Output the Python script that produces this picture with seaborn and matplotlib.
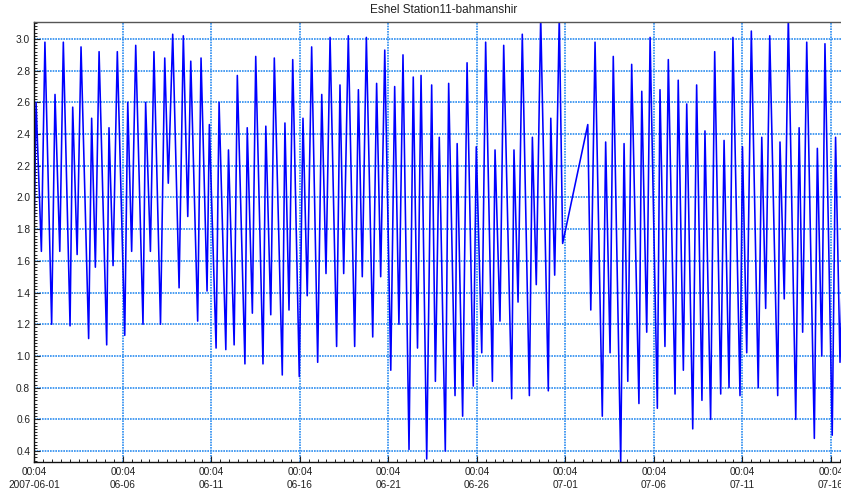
import numpy as np
import pandas as pd
import matplotlib
matplotlib.use("Agg")
import matplotlib.pyplot as plt
import matplotlib.dates as mdates
from matplotlib.ticker import FixedLocator, MultipleLocator, FuncFormatter
import seaborn as sns

# ---------------- data ----------------
title = "Eshel Station11-bahmanshir"
start_time = "2007-06-01 00:04"

# time of each turning point, in days after the start time
day_offset = [
    0.00, 0.10, 0.40, 0.60, 0.98, 1.17, 1.44, 1.64, 2.02, 2.17, 2.42, 2.64,
    3.07, 3.24, 3.45, 3.66, 4.09, 4.22, 4.45, 4.69, 5.11, 5.28, 5.50, 5.73,
    6.14, 6.29, 6.56, 6.76, 7.13, 7.37, 7.57, 7.82, 8.18, 8.42, 8.67, 8.84,
    9.23, 9.42, 9.76, 9.89, 10.27, 10.44, 10.82, 10.97, 11.29, 11.47, 11.90, 12.03,
    12.32, 12.51, 12.92, 13.08, 13.36, 13.56, 14.01, 14.16, 14.39, 14.60, 14.97, 15.18,
    15.42, 15.67, 16.01, 16.24, 16.48, 16.71, 17.08, 17.27, 17.48, 17.74, 18.10, 18.31,
    18.53, 18.76, 19.12, 19.34, 19.57, 19.80, 20.14, 20.36, 20.60, 20.83, 21.17, 21.41,
    21.65, 21.85, 22.17, 22.45, 22.66, 22.88, 23.22, 23.41, 23.77, 23.89, 24.20, 24.45,
    24.80, 24.97, 25.28, 25.50, 25.88, 26.03, 26.31, 26.52, 26.97, 27.10, 27.33, 27.57,
    27.97, 28.14, 28.36, 28.61, 29.04, 29.18, 29.40, 29.66, 29.85,
    31.27, 31.44, 31.68, 32.09, 32.28, 32.53, 32.71, 33.13, 33.32, 33.53, 33.75,
    34.16, 34.32, 34.60, 34.79, 35.20, 35.35, 35.63, 35.82, 36.20, 36.38, 36.67, 36.86,
    37.20, 37.42, 37.72, 37.89, 38.21, 38.44, 38.78, 38.97, 39.25, 39.47, 39.87, 40.01,
    40.25, 40.51, 40.90, 41.10, 41.32, 41.55, 42.00, 42.13, 42.37, 42.60, 43.02, 43.21,
    43.41, 43.64, 44.07, 44.24, 44.49, 44.67, 45.08, 45.27, 45.52, 46.00,
]

# water level (m) at each turning point
level = [
    1.85, 2.60, 1.66, 2.98, 1.20, 2.65, 1.66, 2.98, 1.19, 2.57, 1.64, 2.95,
    1.11, 2.50, 1.56, 2.92, 1.07, 2.44, 1.57, 2.92, 1.13, 2.60, 1.66, 2.96,
    1.20, 2.60, 1.66, 2.92, 1.20, 2.88, 2.09, 3.03, 1.43, 3.02, 1.88, 2.86,
    1.22, 2.88, 1.41, 2.46, 1.05, 2.60, 1.04, 2.30, 1.07, 2.77, 0.95, 2.44,
    1.27, 2.89, 0.95, 2.45, 1.26, 2.88, 0.88, 2.47, 1.29, 2.87, 0.87, 2.50,
    1.38, 2.95, 0.96, 2.65, 1.52, 3.01, 1.06, 2.71, 1.52, 3.02, 1.06, 2.68,
    1.50, 3.01, 1.12, 2.72, 1.50, 2.93, 0.91, 2.70, 1.20, 2.90, 0.41, 2.76,
    1.05, 2.77, 0.35, 2.71, 0.84, 2.38, 0.40, 2.72, 0.75, 2.34, 0.62, 2.85,
    0.81, 2.32, 1.02, 2.98, 0.84, 2.30, 1.22, 2.96, 0.73, 2.30, 1.34, 3.03,
    0.75, 2.38, 1.45, 3.14, 0.78, 2.50, 1.51, 3.14, 1.71,
    2.46, 1.29, 2.98, 0.62, 2.35, 1.02, 2.89, 0.33, 2.34, 0.84, 2.84,
    0.70, 2.67, 1.15, 3.01, 0.67, 2.68, 1.06, 2.87, 0.76, 2.74, 0.91, 2.59,
    0.54, 2.71, 0.72, 2.42, 0.60, 2.92, 0.76, 2.36, 0.80, 3.01, 0.75, 2.32,
    1.02, 3.05, 0.80, 2.38, 1.30, 3.02, 0.75, 2.35, 1.36, 3.14, 0.60, 2.44,
    1.15, 2.98, 0.48, 2.31, 1.00, 2.97, 0.50, 2.38, 0.96, 2.90,
]

y_ticks = [0.4, 0.6, 0.8, 1.0, 1.2, 1.4, 1.6, 1.8, 2.0, 2.2, 2.4, 2.6, 2.8, 3.0]
x_tick_days = [0, 5, 10, 15, 20, 25, 30, 35, 40, 45]

# ---------------- figure ----------------
sns.set_theme(style="white")
plt.rcParams["font.family"] = ["Liberation Sans", "DejaVu Sans"]

t0 = pd.Timestamp(start_time)
df = pd.DataFrame({
    "time": t0 + pd.to_timedelta(np.array(day_offset), unit="D"),
    "level": level,
})

fig = plt.figure(figsize=(8.41, 4.94), dpi=100)
ax = fig.add_axes([34.3 / 841, 1 - 461.7 / 494, (852 - 34.3) / 841, (461.7 - 21.7) / 494])

sns.lineplot(data=df, x="time", y="level", ax=ax, color="#0000FF",
             linewidth=1.15, estimator=None, sort=False)

ax.set_xlim(t0, t0 + pd.Timedelta(days=(852 - 34.3) / 17.70))
ax.set_ylim(0.333, 3.109)

# x ticks
tick_times = [t0 + pd.Timedelta(days=d) for d in x_tick_days]
ax.xaxis.set_major_locator(FixedLocator(mdates.date2num(tick_times)))
minor_times = [t0 + pd.Timedelta(hours=12 * k) for k in range(0, 95)]
ax.xaxis.set_minor_locator(FixedLocator(mdates.date2num(minor_times)))

def fmt_x(v, pos):
    d = mdates.num2date(v)
    if pos == 0:
        return d.strftime("%H:%M\n%Y-%m-%d")
    return d.strftime("%H:%M\n%m-%d")

ax.xaxis.set_major_formatter(FuncFormatter(fmt_x))

ax.yaxis.set_major_locator(FixedLocator(y_ticks))
ax.yaxis.set_major_formatter(FuncFormatter(lambda v, p: f"{v:.1f}"))
ax.yaxis.set_minor_locator(MultipleLocator(0.02))

ax.tick_params(axis="both", which="major", direction="in", length=4, width=0.8,
               labelsize=7.3, colors="#222222", pad=3)
ax.tick_params(axis="x", which="major", pad=4)
ax.tick_params(axis="both", which="minor", direction="in", length=2.5, width=0.7,
               colors="#222222")
ax.tick_params(axis="x", which="both", top=False, bottom=True)
ax.tick_params(axis="y", which="both", left=True, right=False)
for lab in ax.get_xticklabels():
    lab.set_linespacing(1.35)

ax.grid(True, which="major", color="#2B8CF0", linestyle=(0, (1.0, 0.6)), linewidth=1.2)
ax.set_axisbelow(True)

for side in ["left", "bottom"]:
    ax.spines[side].set_color("#111111")
    ax.spines[side].set_linewidth(1.0)
ax.spines["top"].set_color("#555555")
ax.spines["top"].set_linestyle((0, (1, 1)))
ax.spines["top"].set_linewidth(1.0)
ax.spines["right"].set_visible(False)

ax.set_xlabel("")
ax.set_ylabel("")
ax.set_title(title, fontsize=8.5, color="#222222", pad=6)

fig.savefig("out.png", dpi=100)
